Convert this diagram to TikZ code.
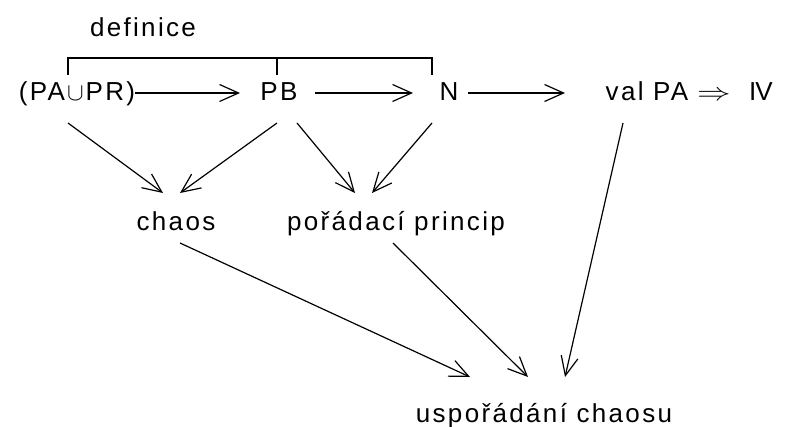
\documentclass[tikz,border=0pt]{standalone}
\usepackage{fontspec}
\setmainfont{Liberation Sans}[LetterSpace=9]
\usetikzlibrary{arrows.meta,calc}
\begin{document}
\begin{tikzpicture}[x=1pt,y=-1pt,
  lbl/.style={inner sep=0pt, anchor=base, font=\fontsize{26}{30}\selectfont},
  arr/.style={line width=1.2pt, -{Straight Barb[length=19pt,width=17pt,line width=1.2pt]}},
  brk/.style={line width=1.1pt}]
\useasboundingbox (0,0) rectangle (789,427);

% labels
\node[lbl] (def) at (143,37) {definice};
\node[lbl] (pa) at (77,101) {(PA\kern2pt{\fontsize{24}{24}\selectfont$\cup$}\kern2ptPR)};
\node[lbl] (pb) at (279,101) {PB};
\node[lbl] (n) at (449,101) {N};
\node[lbl] (val) at (647,101) {val PA};
\node[lbl, xscale=1.35] (impl) at (714,101) {$\Rightarrow$};
\node[lbl] (iv) at (761,101) {I\kern-1pt V};
\node[lbl] (chaos) at (176,231) {chaos};
\node[lbl] (pp) at (396,231) {pořádací princip};
\node[lbl] (usp) at (544,422) {uspořádání chaosu};

% bracket joining the defined terms
\coordinate (bl) at ([shift={(-9,-26)}]pa.base);
\coordinate (bm) at ([shift={(-2,-26)}]pb.base);
\coordinate (br) at ([shift={(-17,-26)}]n.base);
\draw[brk] (bl) -- ++(0,-17) -| (br);
\draw[brk] (bm) -- ++(0,-17);

% top row
\coordinate (pamid) at ([shift={(0,-8)}]pa.base);
\draw[arr] (pamid -| pa.east) -- ([shift={(-39,-8)}]pb.base);
\draw[arr] ([shift={(36,-8)}]pb.base) -- ([shift={(-36,-8)}]n.base);
\draw[arr] ([shift={(19,-8)}]n.base) -- ([shift={(-82,-8)}]val.base);

% into the middle row
\draw[arr] ([shift={(-9,22)}]pa.base) -- ([shift={(-13,-38)}]chaos.base);
\draw[arr] ([shift={(-2,22)}]pb.base) -- ([shift={(4,-38)}]chaos.base);
\draw[arr] ([shift={(18,22)}]pb.base) -- ([shift={(-41,-38)}]pp.base);
\draw[arr] ([shift={(-17,22)}]n.base) -- ([shift={(-24,-38)}]pp.base);

% into the bottom label
\draw[arr] ([shift={(4,12)}]chaos.base) -- ([shift={(-74,-45)}]usp.base);
\draw[arr] ([shift={(-3,12)}]pp.base) -- ([shift={(-16,-45)}]usp.base);
\draw[arr] ([shift={(-24,22)}]val.base) -- ([shift={(21,-45)}]usp.base);
\end{tikzpicture}
\end{document}
